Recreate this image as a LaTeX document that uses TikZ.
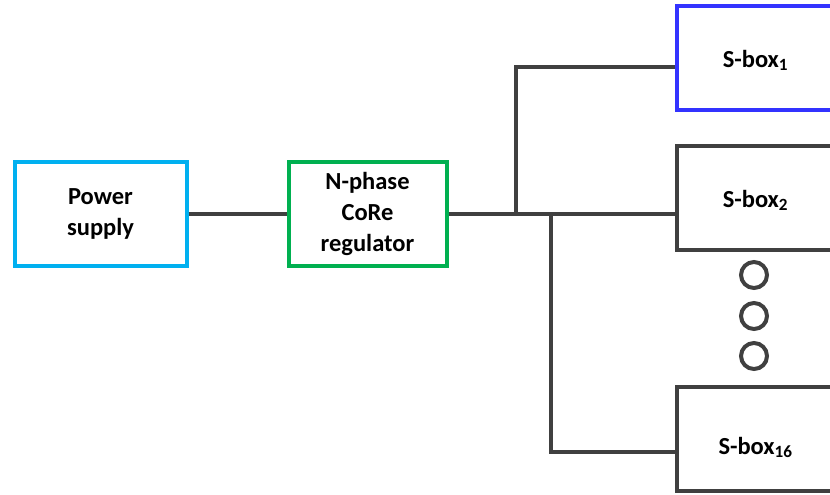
\documentclass[tikz,border=0pt]{standalone}
\usepackage{fontspec}
\setmainfont{Carlito}
\usetikzlibrary{shadows}
\definecolor{wirec}{HTML}{404040}
\definecolor{psblue}{HTML}{00B0F0}
\definecolor{reggreen}{HTML}{00B050}
\definecolor{sbblue}{HTML}{3333FF}
\begin{document}
\begin{tikzpicture}[x=1pt,y=-1pt,
  blk/.style={draw, line width=4pt, fill=white, align=center,
    font=\bfseries\fontsize{24.5}{31}\selectfont, inner sep=0pt,
    anchor=north west,
    drop shadow={shadow xshift=2pt, shadow yshift=-2pt, opacity=0.2, fill=black}},
  sbox/.style={blk, minimum width=158pt, minimum height=104pt, text depth=0pt},
  wire/.style={draw=wirec, line width=4pt},
  dotc/.style={draw=wirec, fill=white, line width=4pt, circle, minimum size=26pt, inner sep=0pt,
    drop shadow={shadow xshift=1.5pt, shadow yshift=-1.5pt, opacity=0.2, fill=black}}]
\useasboundingbox (0,0) rectangle (830,495);
\clip (0,0) rectangle (830,495);
\node[blk, draw=psblue, minimum width=172pt, minimum height=104pt] (ps) at (12.5,160) {Power\\supply};
\node[blk, draw=reggreen, minimum width=158pt, minimum height=104pt] (reg) at (286.5,160) {N-phase\\CoRe\\regulator};
\node[sbox, draw=sbblue, text height=18pt] (sb1) at (674.5,4) {S-box\textsubscript{1}};
\node[sbox, draw=wirec, text height=18pt] (sb2) at (674.5,144) {S-box\textsubscript{2}};
\node[sbox, draw=wirec, text height=30pt] (sb16) at (674.5,385) {S-box\textsubscript{16}};
\node[dotc] (d1) at (754,275) {};
\node[dotc] (d2) at (754,316) {};
\node[dotc] (d3) at (754,356) {};
\coordinate (j1) at (516,212);
\coordinate (j2) at (550.5,212);
\draw[wire] (ps.east) -- (reg.west);
\draw[wire] (reg.east) -- (reg.east -| sb2.west);
\draw[wire] (j1) |- ([yshift=-9pt]sb1.west);
\draw[wire] (j2) |- ([yshift=-13pt]sb16.west);
\end{tikzpicture}
\end{document}
